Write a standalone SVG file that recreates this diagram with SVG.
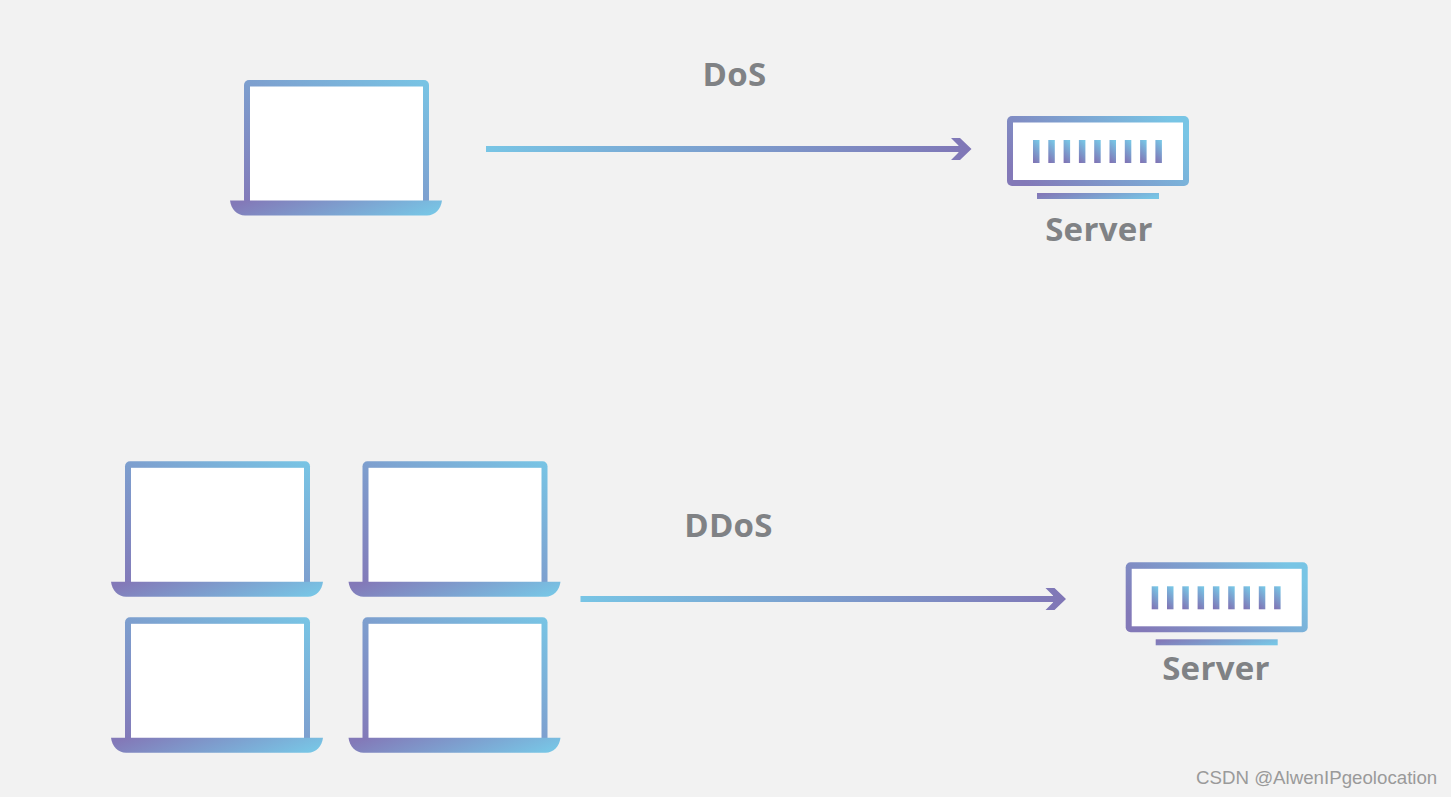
<svg xmlns="http://www.w3.org/2000/svg" xmlns:xlink="http://www.w3.org/1999/xlink" width="1451" height="797" viewBox="0 0 1451 797">
<style>
.lbl{font-family:"Open Sans","Noto Sans",sans-serif;font-weight:700;fill:#808285;text-anchor:middle}
.big{font-size:33px;letter-spacing:.3px}
.wm{font-family:"Liberation Sans",Arial,sans-serif;font-size:18.700px;fill:#9a9a9a}
</style>
<defs>
<linearGradient id="g1" x1="0" y1="1" x2="1" y2="0"><stop offset="0" stop-color="#8379b8"/><stop offset="1" stop-color="#78c5e5"/></linearGradient>
<linearGradient id="g2" x1="0" y1="0.4" x2="1" y2="0.6"><stop offset="0" stop-color="#8379b8"/><stop offset="1" stop-color="#78c5e5"/></linearGradient>
<linearGradient id="g3" x1="0.35" y1="1" x2="0.65" y2="0"><stop offset="0" stop-color="#8076b6"/><stop offset="1" stop-color="#78c5e5"/></linearGradient>
<linearGradient id="g4" gradientUnits="userSpaceOnUse" x1="486" y1="0" x2="972" y2="0"><stop offset="0" stop-color="#78c5e5"/><stop offset="1" stop-color="#8076b6"/></linearGradient>
<linearGradient id="g5" x1="0" y1="0.7" x2="1" y2="0.3"><stop offset="0" stop-color="#8379b8"/><stop offset="1" stop-color="#78c5e5"/></linearGradient>
<g id="laptop">
<rect x="244" y="80" width="185" height="125" rx="5" fill="url(#g1)"/>
<rect x="250" y="86.500" width="173" height="115" fill="#fff"/>
<path d="M230 200.500H442C441 209 435 215.500 427 215.500H245C237 215.500 231 209 230 200.500Z" fill="url(#g2)"/>
</g>
<g id="server">
<rect x="1007" y="116" width="182" height="70" rx="5" fill="url(#g5)"/>
<rect x="1013" y="122.500" width="170" height="57.500" fill="#fff"/>
<g fill="url(#g3)">
<rect x="1033" y="140" width="6.500" height="23"/><rect x="1048.300" y="140" width="6.500" height="23"/><rect x="1063.600" y="140" width="6.500" height="23"/><rect x="1078.900" y="140" width="6.500" height="23"/><rect x="1094.200" y="140" width="6.500" height="23"/><rect x="1109.500" y="140" width="6.500" height="23"/><rect x="1124.800" y="140" width="6.500" height="23"/><rect x="1140.100" y="140" width="6.500" height="23"/><rect x="1155.400" y="140" width="6.500" height="23"/>
</g>
<rect x="1037" y="193" width="122" height="6" fill="url(#g2)"/>
</g>
<g id="arrow">
<rect x="486" y="146" width="476" height="6" fill="url(#g4)"/>
<path d="M951 138H960L971.500 149L960 160H951L958.500 152.500V145.500Z" fill="url(#g4)"/>
</g>
</defs>
<rect id="background" width="1451" height="797" fill="#f2f2f2"/>
<g id="connectors">
<use id="edge-dos" xlink:href="#arrow"/>
<use id="edge-ddos" xlink:href="#arrow" transform="translate(94.500 450)"/>
</g>
<g id="laptop-dos"><use xlink:href="#laptop"/></g>
<g id="laptop-ddos-1"><use xlink:href="#laptop" transform="translate(-119 381.300)"/></g>
<g id="laptop-ddos-2"><use xlink:href="#laptop" transform="translate(118.500 381.300)"/></g>
<g id="laptop-ddos-3"><use xlink:href="#laptop" transform="translate(-119 537.300)"/></g>
<g id="laptop-ddos-4"><use xlink:href="#laptop" transform="translate(118.500 537.300)"/></g>
<g id="server-dos"><use xlink:href="#server"/><text class="lbl big" x="1099" y="241">Server</text></g>
<g id="server-ddos"><use xlink:href="#server" transform="translate(118.700 446.300)"/><text class="lbl big" x="1216" y="680">Server</text></g>
<text id="label-dos" class="lbl big" x="734.500" y="86">DoS</text>
<text id="label-ddos" class="lbl big" x="728.500" y="537">DDoS</text>
<text id="watermark" class="wm" x="1196" y="784">CSDN @AlwenIPgeolocation</text>
</svg>
